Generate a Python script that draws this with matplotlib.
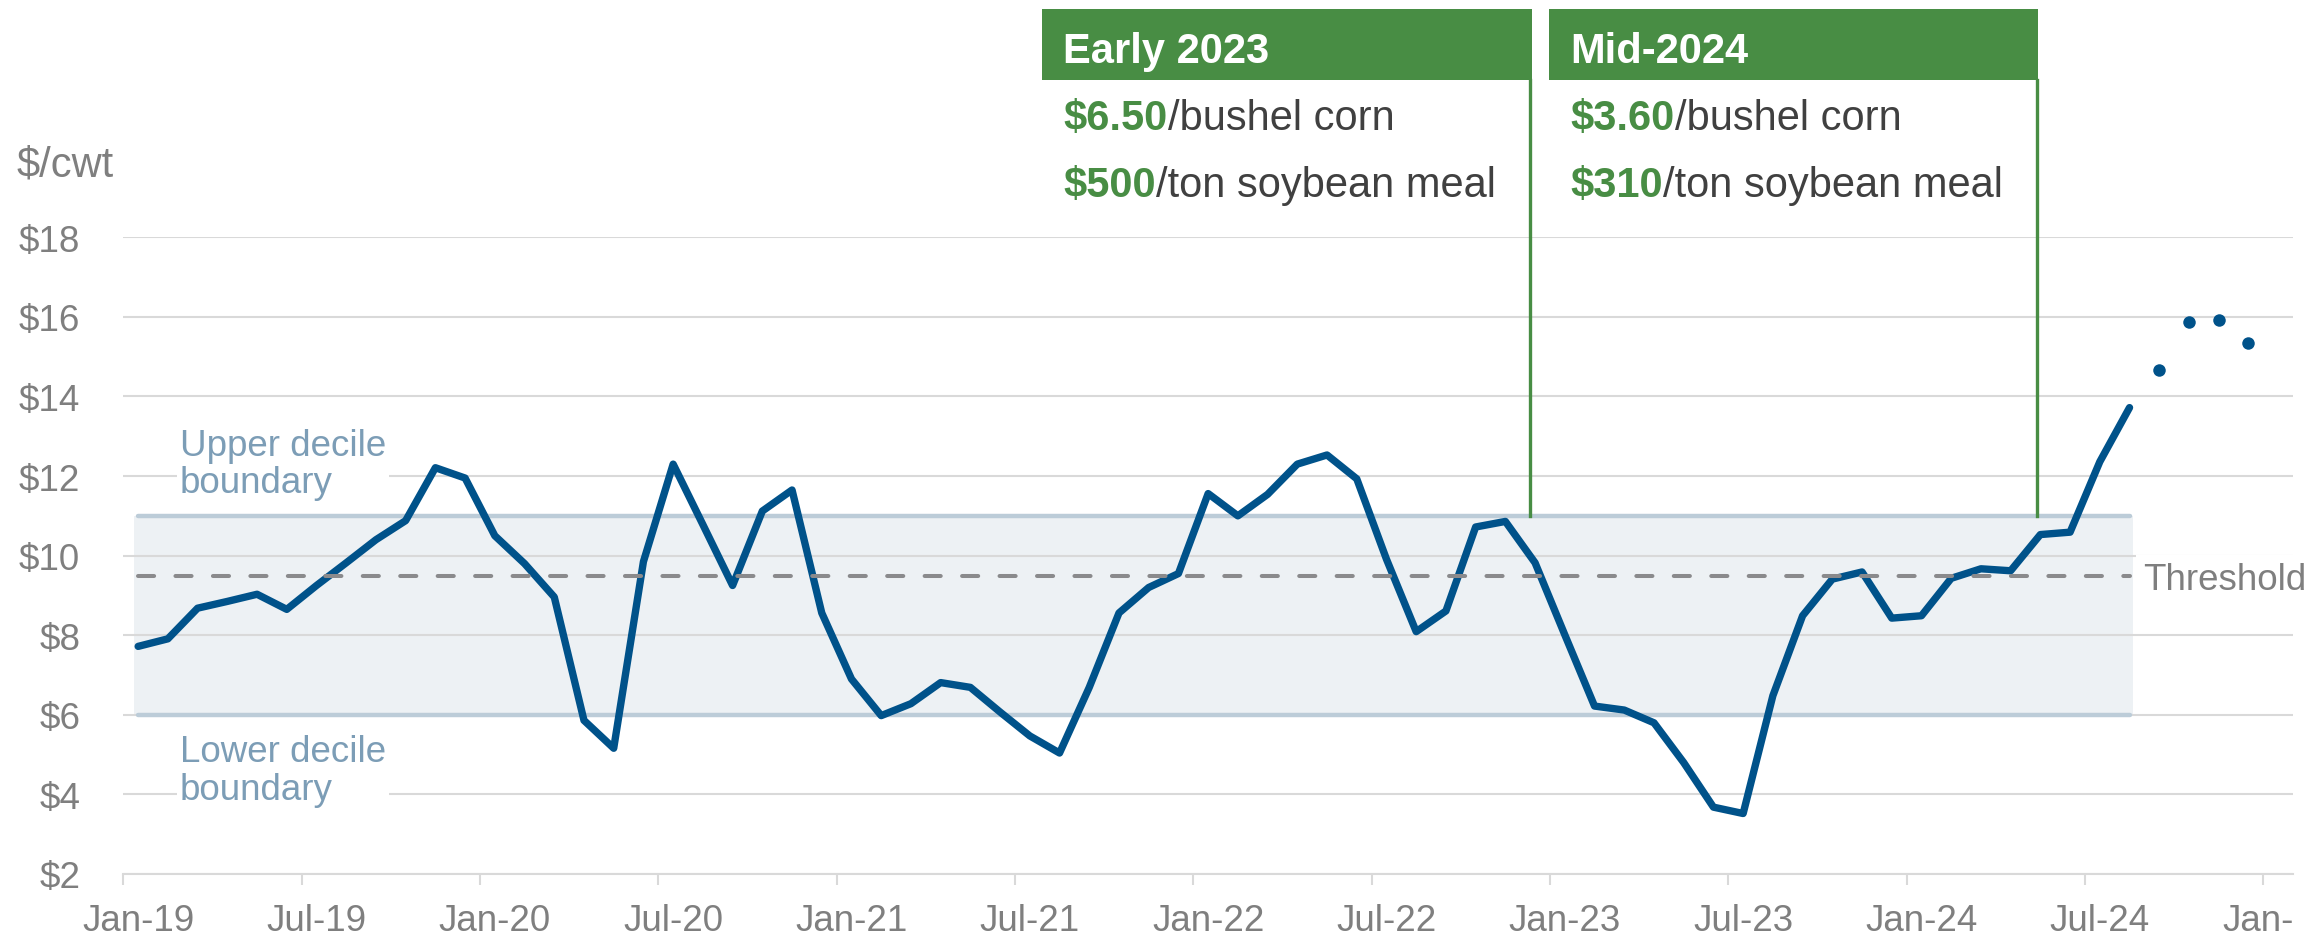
import matplotlib
matplotlib.use("Agg")
import matplotlib.pyplot as plt
from matplotlib.patches import Rectangle
from matplotlib.lines import Line2D

plt.rcParams['font.family'] = ['Liberation Sans', 'DejaVu Sans']

# ---------------------------------------------------------------- data
# Monthly price, Jan-2019 .. Aug-2024 ($/cwt)
price = [
    7.72, 7.91, 8.68, 8.85, 9.03, 8.65, 9.25, 9.82, 10.40, 10.88, 12.21, 11.95,   # 2019
    10.50, 9.80, 8.96, 5.86, 5.16, 9.85, 12.30, 10.78, 9.25, 11.12, 11.65, 8.56,  # 2020
    6.90, 5.98, 6.28, 6.81, 6.69, 6.07, 5.47, 5.04, 6.69, 8.56, 9.20, 9.55,       # 2021
    11.56, 11.00, 11.54, 12.30, 12.53, 11.93, 9.91, 8.09, 8.61, 10.72, 10.86, 9.82,  # 2022
    8.01, 6.22, 6.12, 5.80, 4.80, 3.68, 3.52, 6.48, 8.49, 9.41, 9.59, 8.43,       # 2023
    8.49, 9.43, 9.67, 9.62, 10.53, 10.59, 12.36, 13.72,                           # 2024
]
# Projection, Sep-2024 .. Dec-2024
projection = [14.67, 15.88, 15.93, 15.34]

lower_decile = 6.0
upper_decile = 11.0
threshold = 9.5

tick_labels = ["Jan-19", "Jul-19", "Jan-20", "Jul-20", "Jan-21", "Jul-21",
               "Jan-22", "Jul-22", "Jan-23", "Jul-23", "Jan-24", "Jul-24", "Jan-25"]
y_ticks = [2, 4, 6, 8, 10, 12, 14, 16, 18]

panels = [
    {"title": "Early 2023", "corn": "$6.50", "meal": "$500"},
    {"title": "Mid-2024", "corn": "$3.60", "meal": "$310"},
]

# ---------------------------------------------------------------- style
W, H = 2313, 937
BLUE = "#00528A"
GREEN = "#488D44"
GRID = "#D9D9D9"
BAND_FILL = "#EDF1F4"
BAND_LINE = "#BCCCD8"
BAND_TEXT = "#7C9DB6"
GRAY_TEXT = "#7F7F7F"
DARK_TEXT = "#404040"
DASH = "#8A8A8C"


def fx(px):
    return px / W


def fy(py):
    return 1 - py / H


fig = plt.figure(figsize=(W / 100, H / 100), dpi=100)
ax = fig.add_axes([fx(123.3), fy(875), fx(2293) - fx(123.3), fy(238.3) - fy(875)])

n = len(price)
x_line = list(range(n))
x_proj = list(range(n, n + len(projection)))
n_months = n + len(projection)

ax.set_xlim(-0.5, n_months + 0.5)
ax.set_ylim(y_ticks[0], y_ticks[-1])

# grid and axes
ax.set_axisbelow(True)
ax.yaxis.grid(True, color=GRID, linewidth=1.5)
for side in ("left", "right", "top"):
    ax.spines[side].set_visible(False)
ax.spines["bottom"].set_color(GRID)
ax.spines["bottom"].set_linewidth(1.5)

ax.set_yticks(y_ticks)
ax.set_yticklabels([f"${v}" for v in y_ticks])
ax.tick_params(axis="y", length=0, pad=31, labelsize=26.5, labelcolor=GRAY_TEXT)

label_pos = list(range(0, n_months + 1, 6))
ax.set_xticks([p - 0.5 for p in label_pos])
ax.set_xticklabels([])
ax.set_xticks(label_pos, minor=True)
ax.set_xticklabels(tick_labels, minor=True)
ax.tick_params(axis="x", which="major", length=8, width=1.5, color=GRID)
ax.tick_params(axis="x", which="minor", length=0, pad=21, labelsize=26.5,
               labelcolor=GRAY_TEXT)

# decile band
ax.fill_between([-0.13, n - 1 + 0.12], lower_decile, upper_decile,
                color=BAND_FILL, linewidth=0, zorder=0.3)
for lvl in (lower_decile, upper_decile):
    ax.plot([0, n - 1], [lvl, lvl], color=BAND_LINE, linewidth=3.2,
            solid_capstyle="round", zorder=2)
ax.plot([0, n - 1], [threshold, threshold], color=DASH, linewidth=2.9,
        dashes=(4.0, 5.3), dash_capstyle="round", zorder=4)

# price line and projection dots
ax.plot(x_line, price, color=BLUE, linewidth=5.3, solid_joinstyle="round",
        solid_capstyle="round", zorder=3)
ax.plot(x_proj, projection, linestyle="none", marker="o", markersize=9,
        color=BLUE, markeredgewidth=0, zorder=3)

# band labels (y gives the baseline of the last line)
box = dict(facecolor="white", edgecolor="none", pad=2)
ax.text(1.41, 11.59, "Upper decile\nboundary", fontsize=26.5, color=BAND_TEXT,
        ha="left", va="baseline", linespacing=1.1, bbox=box, zorder=1)
ax.text(1.41, 3.885, "Lower decile\nboundary", fontsize=26.5, color=BAND_TEXT,
        ha="left", va="baseline", linespacing=1.1, bbox=box, zorder=1)
ax.text(67.46, threshold, "Threshold", fontsize=26.5, color=GRAY_TEXT,
        ha="left", va="center_baseline",
        bbox=dict(facecolor="white", edgecolor="none", pad=5), zorder=1)

# y-axis unit
fig.text(fx(17), fy(176.7), "$/cwt", fontsize=30, color=GRAY_TEXT,
         ha="left", va="baseline")

# feed-cost panels
panel_x = [(1042.3, 1531.7), (1549.3, 2038.3)]
head_top, head_bot = 10, 80.7
y_decile_px = ax.transData.transform((0, upper_decile))[1]
for (x0, x1), p in zip(panel_x, panels):
    fig.add_artist(Rectangle((fx(x0), fy(head_bot)), fx(x1) - fx(x0),
                             fy(head_top) - fy(head_bot),
                             transform=fig.transFigure, facecolor=GREEN,
                             edgecolor="none"))
    fig.add_artist(Line2D([fx(x1 - 1.7), fx(x1 - 1.7)],
                          [fy(head_bot), y_decile_px / H],
                          transform=fig.transFigure, color=GREEN, linewidth=2.4))
    fig.text(fx(x0 + 21), fy(63.3), p["title"], fontsize=30, fontweight="bold",
             color="white", ha="left", va="baseline")
    for val, rest, base in ((p["corn"], "/bushel corn", 130),
                            (p["meal"], "/ton soybean meal", 196.7)):
        t = fig.text(fx(x0 + 21), fy(base), val, fontsize=30, fontweight="bold",
                     color=GREEN, ha="left", va="baseline")
        fig.add_artist(plt.Annotation(rest, xy=(1, 0), xycoords=t,
                                      fontsize=30, color=DARK_TEXT,
                                      ha="left", va="bottom"))

# last month label runs past the plot edge and is cut there
fig.add_artist(Rectangle((fx(2292), 0), 1 - fx(2292), fy(885),
                         transform=fig.transFigure, facecolor="white",
                         edgecolor="none", zorder=10))

fig.savefig("out.png", dpi=100)
